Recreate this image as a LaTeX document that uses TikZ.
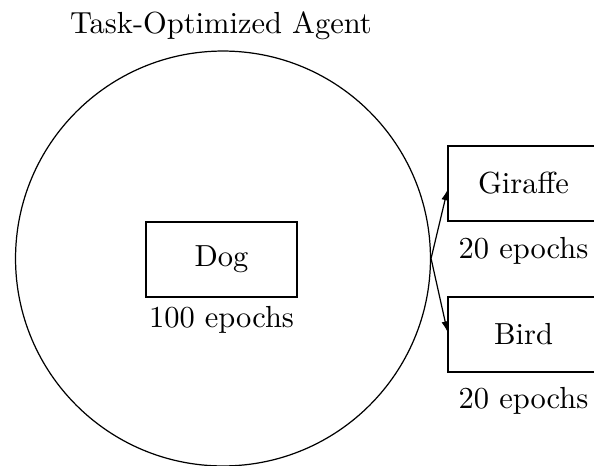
\documentclass[tikz,border=0pt]{standalone}
\usetikzlibrary{arrows.meta}
\begin{document}
\begin{tikzpicture}[x=0.328pt, y=-0.328pt,
  every node/.style={font=\fontsize{10}{12}\selectfont},
  classbox/.style={draw, rectangle, minimum width=49.5pt, minimum height=24.6pt, inner sep=0pt},
  agentring/.style={draw, circle, minimum size=136.1pt, inner sep=0pt},
  epochs/.style={anchor=base, inner sep=0pt},
  flow/.style={-{Latex[length=3.4pt, width=2.4pt]}}]
  \useasboundingbox (0,0) rectangle (594,466);

  % agent region and its title
  \node[agentring] (agent) at (223,258.5) {};
  \node[anchor=base, inner sep=0pt] (title) at (221,33) {Task-Optimized Agent};

  % base task
  \node[classbox] (dog) at (221.5,259.5) {Dog};
  \node[epochs] (dogep) at (221.5,327.5) {100 epochs};

  % follow-up tasks
  \node[classbox] (giraffe) at (523.5,183.5) {Giraffe};
  \node[epochs] (giraffeep) at (523.5,258.3) {20 epochs};
  \node[classbox] (bird) at (523.5,334.5) {Bird};
  \node[epochs] (birdep) at (523.5,408) {20 epochs};

  % transfer arrows
  \draw[flow] (agent.east) -- ([yshift=-2.1pt]giraffe.west);
  \draw[flow] (agent.east) -- ([yshift=0.9pt]bird.west);
\end{tikzpicture}
\end{document}
